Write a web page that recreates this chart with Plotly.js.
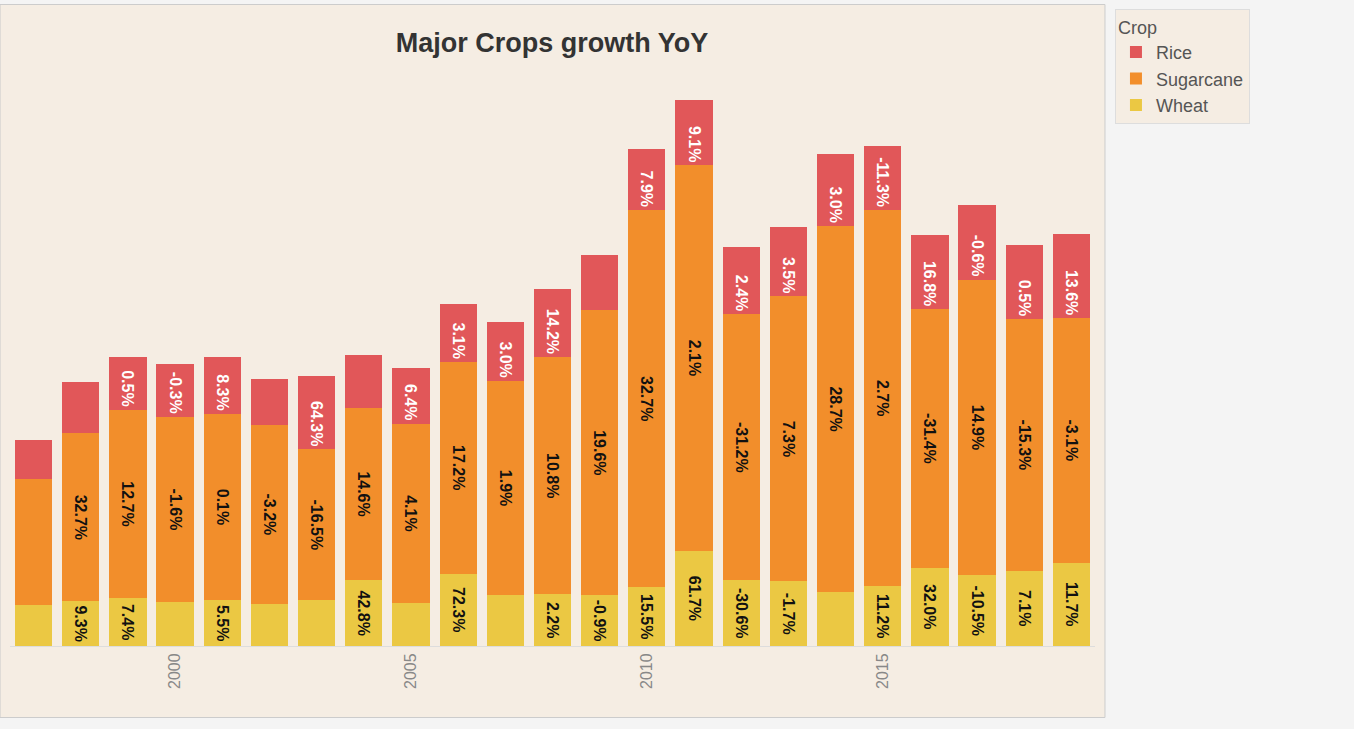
<!DOCTYPE html>
<html><head><meta charset="utf-8">
<script src="https://cdn.plot.ly/plotly-3.0.1.min.js"></script>
<style>body{margin:0;background:#f4f4f4}</style></head>
<body><div id="chart" style="width:1354px;height:729px"></div>
<script>
const years=['1997','1998','1999','2000','2001','2002','2003','2004','2005','2006','2007','2008','2009','2010','2011','2012','2013','2014','2015','2016','2017','2018','2019'];
const wheat=[41,45,48,44,46,42,46,66,43,73,51,52,51,59,96,66,65,54,60,79,71,76,84];
const sugarcane=[127,169,190,187,188,181,152,174,181,213,216,239,287,380,388,268,287,369,379,260,298,253,246];
const rice=[39,52,53,53,57,46,74,53,56,58,59,69,56,61,66,68,70,72,64,75,75,75,85];
const wheatLbl=['','9.3%','7.4%','','5.5%','','','42.8%','','72.3%','','2.2%','-0.9%','15.5%','61.7%','-30.6%','-1.7%','','11.2%','32.0%','-10.5%','7.1%','11.7%'];
const sugarLbl=['','32.7%','12.7%','-1.6%','0.1%','-3.2%','-16.5%','14.6%','4.1%','17.2%','1.9%','10.8%','19.6%','32.7%','2.1%','-31.2%','7.3%','28.7%','2.7%','-31.4%','14.9%','-15.3%','-3.1%'];
const riceLbl=['','','0.5%','-0.3%','8.3%','','64.3%','','6.4%','3.1%','3.0%','14.2%','','7.9%','9.1%','2.4%','3.5%','3.0%','-11.3%','16.8%','-0.6%','0.5%','13.6%'];
function tr(name,y,t,color,tc,anchor){return {type:'bar',name:name,x:years,y:y,text:t,texttemplate:'%{text}',textposition:'inside',insidetextanchor:anchor,textangle:90,constraintext:'none',
 textfont:{family:'Arial',size:16,color:tc,weight:'bold'},marker:{color:color},hoverinfo:'skip'};}
const data=[tr('Wheat',wheat,wheatLbl,'#ebc843','#111','middle'),tr('Sugarcane',sugarcane,sugarLbl,'#f28e2b','#111','middle'),tr('Rice',rice,riceLbl,'#e15759','#fff','start')];
const layout={width:1354,height:729,barmode:'stack',bargap:0.21,paper_bgcolor:'#f4f4f4',plot_bgcolor:'rgba(0,0,0,0)',
 margin:{l:10,r:259,t:70,b:83},
 title:{text:'<b>Major Crops growth YoY</b>',x:0.4077,xanchor:'center',y:0.942,yanchor:'middle',font:{family:'Arial',size:27,color:'#333'}},
 xaxis:{tickangle:-90,tickfont:{family:'Arial',size:16,color:'#888'},showgrid:false,showline:true,linecolor:'#ddd',ticks:''},
 yaxis:{range:[0,576],visible:false,showgrid:false},
 shapes:[{type:'rect',xref:'paper',yref:'paper',x0:-0.0092,x1:1.0092,y0:-0.125,y1:1.1215,fillcolor:'#f5ede3',line:{color:'#ccc',width:1},layer:'below'}],
 legend:{x:1.0184,y:1.1128,xanchor:'left',yanchor:'top',traceorder:'reversed',bgcolor:'#f5ede3',bordercolor:'#ddd',borderwidth:1,
  title:{text:'Crop',font:{family:'Arial',size:18,color:'#555'}},font:{family:'Arial',size:18,color:'#555'},itemwidth:30},
 showlegend:true};
Plotly.newPlot('chart',data,layout,{displayModeBar:false});
</script></body></html>
